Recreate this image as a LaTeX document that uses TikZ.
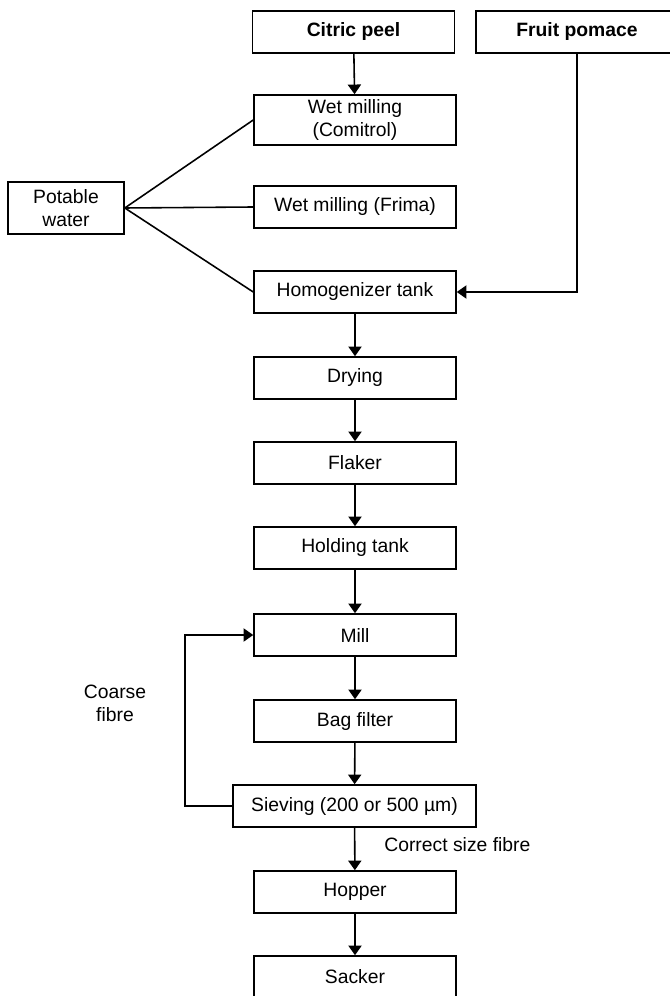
\documentclass[tikz,border=0pt]{standalone}
\usepackage{fontspec}
\setmainfont{Liberation Sans}
\usetikzlibrary{arrows.meta, calc}

\tikzset{
  procbox/.style={draw, line width=0.9pt, minimum width=4.04cm, minimum height=0.84cm,
    align=center, inner sep=1pt, font=\fontsize{11}{13}\selectfont},
  flow/.style={line width=0.9pt, -{Triangle[width=7.5pt,length=5.5pt]}},
  feed/.style={line width=0.9pt},
  lbl/.style={align=center, inner sep=0pt, font=\fontsize{11}{13}\selectfont}
}

\begin{document}
\begin{tikzpicture}[x=0.02cm, y=-0.02cm]
      \useasboundingbox (0,0) rectangle (669,996);

      % raw materials
      \node[procbox, font=\fontsize{11}{13}\selectfont\bfseries] (peel) at (353.5,32) {Citric peel};
      \node[procbox, font=\fontsize{11}{13}\selectfont\bfseries] (pomace) at (577,32) {Fruit pomace};
      \node[procbox, minimum width=2.32cm, minimum height=1.04cm] (water) at (66,208) {Potable\\water};

      % main line
      \node[procbox, minimum height=1.0cm] (wetc) at (355,120) {Wet milling\\(Comitrol)};
      \node[procbox] (wetf) at (355,207) {Wet milling (Frima)};
      \node[procbox] (homog) at (355,292) {Homogenizer tank};
      \node[procbox] (dry) at (355,378) {Drying};
      \node[procbox] (flaker) at (355,463) {Flaker};
      \node[procbox] (hold) at (355,548) {Holding tank};
      \node[procbox] (mill) at (355,635) {Mill};
      \node[procbox] (bag) at (355,721) {Bag filter};
      \node[procbox, minimum width=4.86cm] (sieve) at (354.5,806) {Sieving (200 or 500 µm)};
      \node[procbox] (hopper) at (355,892) {Hopper};
      \node[procbox] (sacker) at (355,977) {Sacker};

      \draw[flow] (peel) -- (wetc);
      \foreach \a/\b in {homog/dry, dry/flaker, flaker/hold, hold/mill, mill/bag,
                         bag/sieve, sieve/hopper, hopper/sacker} {
          \draw[flow] (\a) -- (\b);
      }

      % water supply
      \foreach \t in {wetc, wetf, homog} {
          \draw[feed] (water.east) -- (\t.west);
      }

      % pomace feed
      \coordinate (pc) at (577,292);
      \draw[flow] (pomace.south) -- (pc) -- (homog.east);

      % recycle of coarse fibre
      \coordinate (r1) at (185,806);
      \coordinate (r2) at (185,635);
      \draw[flow] (sieve.west) -- (r1) -- (r2) -- (mill.west);

      \node[lbl] (coarse) at (115,703) {Coarse\\fibre};
      \node[lbl, anchor=west] (correct) at (384,845) {Correct size fibre};
    \end{tikzpicture}
\end{document}
